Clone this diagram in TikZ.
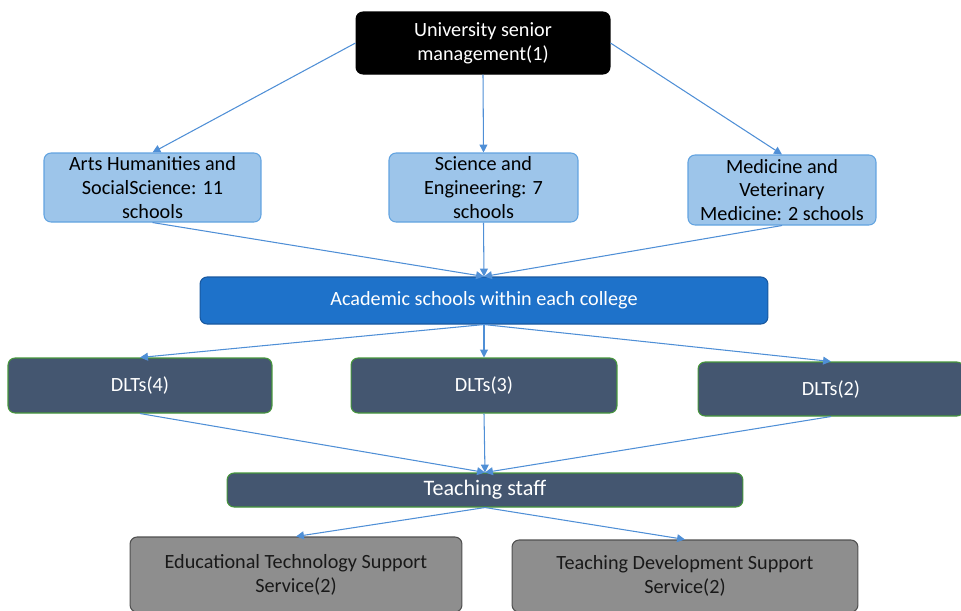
\documentclass[tikz,border=0pt]{standalone}
\usepackage{fontspec}
\setmainfont{Carlito}
\usetikzlibrary{arrows.meta}

\definecolor{linkblue}{RGB}{79,143,214}
\definecolor{collegefill}{RGB}{157,197,234}
\definecolor{collegedraw}{RGB}{98,163,224}
\definecolor{schoolfill}{RGB}{30,114,202}
\definecolor{schooldraw}{RGB}{24,88,160}
\definecolor{slate}{RGB}{68,86,112}
\definecolor{slategreen}{RGB}{70,150,60}
\definecolor{servicefill}{RGB}{142,142,142}
\definecolor{servicedraw}{RGB}{80,80,80}

\begin{document}
\begin{tikzpicture}[
    x=0.02cm, y=-0.02cm,
    box/.style={rectangle, rounded corners=4pt, align=center, inner sep=2pt,
                font=\fontsize{11.5}{13.6}\selectfont, line width=0.6pt},
    mgmt/.style={box, fill=black, draw=black, text=white},
    college/.style={box, fill=collegefill, draw=collegedraw, text=black},
    school/.style={box, fill=schoolfill, draw=schooldraw, text=white},
    dlt/.style={box, fill=slate, draw=slategreen, text=white},
    service/.style={box, fill=servicefill, draw=servicedraw, text=black!90},
    link/.style={draw=linkblue, line width=0.6pt, -{Triangle[width=4.5pt,length=4.5pt]}}
]
\useasboundingbox (0,0) rectangle (961,610);

% Senior management
\node[mgmt, minimum width=5.08cm, minimum height=1.24cm] (top) at (483,43)
    {University senior\\management(1)};

% Colleges
\node[college, minimum width=4.34cm, minimum height=1.38cm] (arts) at (152.5,187.5)
    {Arts Humanities and\\SocialScience: 11\\schools};
\node[college, minimum width=3.78cm, minimum height=1.38cm] (sci) at (483.5,187.5)
    {Science and\\Engineering: 7\\schools};
\node[college, minimum width=3.76cm, minimum height=1.40cm] (med) at (782,190)
    {Medicine and\\Veterinary\\Medicine: 2 schools};

% Schools
\node[school, minimum width=11.36cm, minimum height=0.94cm] (acad) at (484,300.5)
    {Academic schools within each college};

% DLTs
\node[dlt, minimum width=5.28cm, minimum height=1.10cm] (dltfour) at (140,385.5) {DLTs(4)};
\node[dlt, minimum width=5.32cm, minimum height=1.10cm] (dltthree) at (484,385.5) {DLTs(3)};
\node[dlt, minimum width=5.32cm, minimum height=1.08cm] (dlttwo) at (831,389) {DLTs(2)};

% Teaching staff
\node[dlt, minimum width=10.32cm, minimum height=0.68cm, font=\fontsize{12.6}{14}\selectfont]
    (staff) at (485,490) {Teaching staff};

% Support services
\node[service, minimum width=6.64cm, minimum height=1.50cm] (ets) at (296,574.5)
    {Educational Technology Support\\Service(2)};
\node[service, minimum width=6.92cm, minimum height=1.44cm] (tds) at (685,576)
    {Teaching Development Support\\Service(2)};

% Links
\draw[link] (top.west) -- (arts.north);
\draw[link] (top.south) -- (sci.north);
\draw[link] (top.east) -- (med.north);

\foreach \src in {arts, sci, med}
    \draw[link] (\src.south) -- (acad.north);

\foreach \dst in {dltfour, dltthree, dlttwo}
    \draw[link] (acad.south) -- (\dst.north);

\foreach \src in {dltfour, dltthree, dlttwo}
    \draw[link] (\src.south) -- (staff.north);

\draw[link] (staff.south) -- (ets.north);
\draw[link] (staff.south) -- (tds.north);

\end{tikzpicture}
\end{document}
